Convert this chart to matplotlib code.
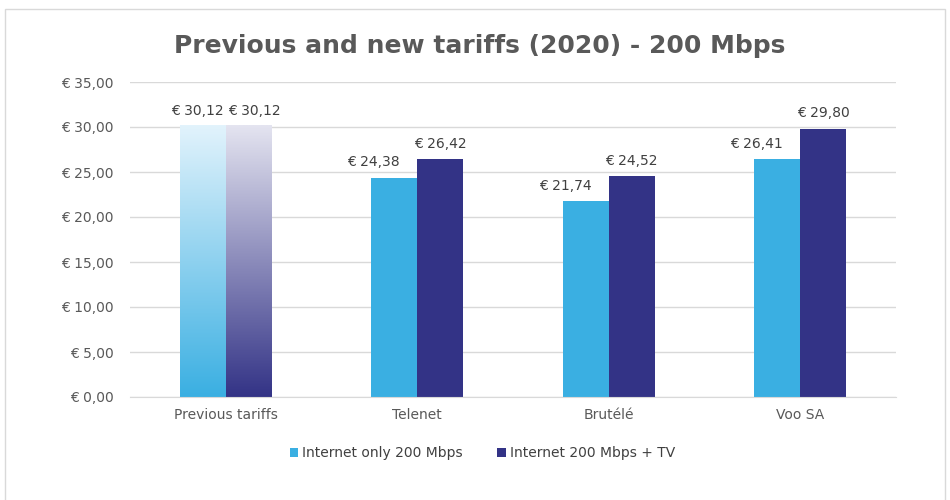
import matplotlib
matplotlib.use("Agg")
import matplotlib.pyplot as plt
import numpy as np
from matplotlib.colors import LinearSegmentedColormap
from matplotlib.patches import Rectangle, Patch

categories = ["Previous tariffs", "Telenet", "Brutélé", "Voo SA"]
internet_only = [30.12, 24.38, 21.74, 26.41]
internet_tv = [30.12, 26.42, 24.52, 29.80]
series_names = ["Internet only 200 Mbps", "Internet 200 Mbps + TV"]
yticks = [0, 5, 10, 15, 20, 25, 30, 35]

c_light = "#3AAFE2"
c_dark = "#333386"
text_gray = "#595959"

fig = plt.figure(figsize=(9.5, 5), dpi=100)
fig.patch.set_facecolor("white")
# outer border
fig.patches.append(Rectangle((5/950, -0.05), 940/950, 1.05 - 9/500, transform=fig.transFigure,
                             fill=False, edgecolor="#D9D9D9", linewidth=1))

ax = fig.add_axes([130/950, 103/500, 766/950, 315/500])
x = np.arange(len(categories))
w = 0.24

b1 = ax.bar(x - w/2, internet_only, w, color=c_light, zorder=2)
b2 = ax.bar(x + w/2, internet_tv, w, color=c_dark, zorder=2)

# gradient fill for the "Previous tariffs" bars
grad_light = LinearSegmentedColormap.from_list("gl", [c_light, "#E2F3FC"])
grad_dark = LinearSegmentedColormap.from_list("gd", [c_dark, "#E4E4F0"])
for bar, cmap in ((b1[0], grad_light), (b2[0], grad_dark)):
    bar.set_facecolor("none")
    bx, by = bar.get_x(), bar.get_y()
    bw, bh = bar.get_width(), bar.get_height()
    grad = np.linspace(0, 1, 256).reshape(-1, 1)
    ax.imshow(grad, cmap=cmap, origin="lower", aspect="auto",
              extent=[bx, bx + bw, by, by + bh], zorder=2)

def fmt(v):
    return "€ " + f"{v:.2f}".replace(".", ",")

for i, (bar, v) in enumerate(zip(b1, internet_only)):
    dx = -4 if i == 0 else -15
    ax.annotate(fmt(v), (bar.get_x() + bar.get_width()/2, v), xytext=(dx, 6),
                textcoords="offset points", ha="center", va="bottom", fontsize=10, color="#404040")
for i, (bar, v) in enumerate(zip(b2, internet_tv)):
    dx = 4 if i == 0 else 0
    ax.annotate(fmt(v), (bar.get_x() + bar.get_width()/2, v), xytext=(dx, 6),
                textcoords="offset points", ha="center", va="bottom", fontsize=10, color="#404040")

ax.set_xlim(-0.5, len(categories) - 0.5)
ax.set_ylim(0, 35)
ax.set_yticks(yticks)
ax.set_yticklabels([fmt(t) for t in yticks], fontsize=10, color=text_gray)
ax.set_xticks(x)
ax.set_xticklabels(categories, fontsize=10, color=text_gray)
ax.tick_params(axis="both", length=0, pad=8)
ax.tick_params(axis="y", pad=12)
ax.yaxis.grid(True, color="#D9D9D9", linewidth=1, zorder=0)
ax.set_axisbelow(True)
for s in ("top", "right", "left"):
    ax.spines[s].set_visible(False)
ax.spines["bottom"].set_color("#D9D9D9")

fig.text(480/950, 1 - 46/500, "Previous and new tariffs (2020) - 200 Mbps", ha="center", va="center",
         fontsize=18, fontweight="bold", color=text_gray)

handles = [Patch(facecolor=c_light), Patch(facecolor=c_dark)]
ax.legend(handles, series_names, loc="center", bbox_to_anchor=(0.46, -0.178), ncol=2, frameon=False,
          fontsize=10, handlelength=0.6, handleheight=0.6, handletextpad=0.3, columnspacing=2.5,
          labelcolor="#404040")

fig.savefig("out.png", dpi=100)
